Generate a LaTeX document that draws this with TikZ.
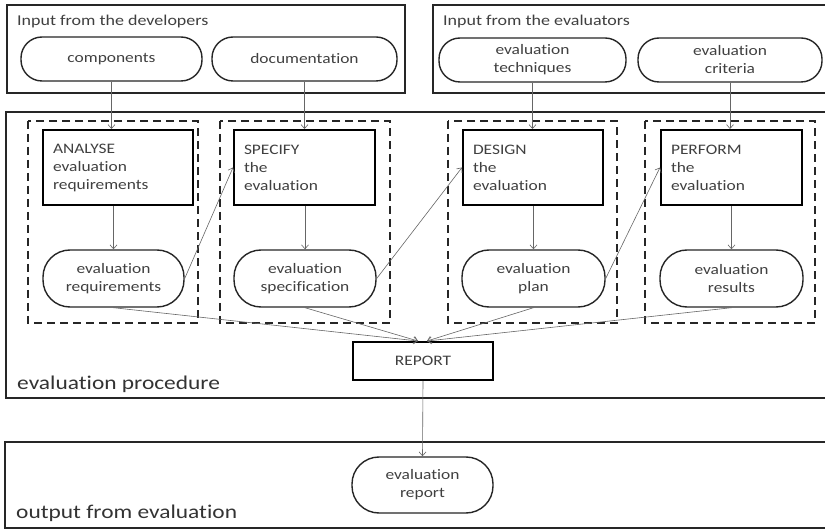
\documentclass[tikz,border=0pt]{standalone}
\usepackage{fontspec}
\setmainfont{Carlito}[FakeStretch=1.2, Ligatures={TeX,NoCommon}]
\usetikzlibrary{arrows.meta}
\begin{document}
\begin{tikzpicture}[x=1pt,y=-1pt,
  frame/.style={draw=black!85, line width=1.8pt},
  pill/.style={draw=black!85, line width=1.4pt, rounded corners=21pt, align=center,
    font=\fontsize{14.5}{18}\selectfont, text=black!75, inner sep=0pt},
  bpill/.style={pill, rounded corners=27pt},
  stage/.style={draw=black, line width=2pt, align=left, inner xsep=10pt, inner ysep=0pt,
    font=\fontsize{14.5}{18}\selectfont, text=black!75, minimum height=75pt},
  dbox/.style={draw=black!85, line width=2pt, dash pattern=on 8pt off 5pt},
  arr/.style={draw=black!60, line width=0.6pt, -{Straight Barb[length=4pt,width=7pt]}},
  head/.style={anchor=base west, inner sep=0pt, text=black!75, font=\fontsize{15}{18}\selectfont},
  big/.style={anchor=base west, inner sep=0pt, text=black!80, font=\fontsize{19.5}{22}\selectfont},
]
\useasboundingbox (0,0) rectangle (825,529);
\fill[white] (0,0) rectangle (825,529);

% frames
\draw[frame] (7,5) rectangle (405,93);
\draw[frame] (433,5) rectangle (830,93);
\draw[frame] (6,112) rectangle (830,398);
\draw[frame] (5,442) rectangle (830,528);

\node[head] (hdev) at (17,26) {Input from the developers};
\node[head] (heval) at (443,26) {Input from the evaluators};
\node[big] (lproc) at (17,390) {evaluation procedure};
\node[big] (lout) at (16,518) {output from evaluation};

% dashed boxes
\draw[dbox] (28,121) rectangle (198,323);
\draw[dbox] (220,121) rectangle (390,323);
\draw[dbox] (448,121) rectangle (617,323);
\draw[dbox] (645,121) rectangle (815,323);

% input pills
\node[pill, minimum width=181pt, minimum height=44pt] (comp) at (111.5,59) {components};
\node[pill, minimum width=185pt, minimum height=44pt] (doc) at (304.5,59) {documentation};
\node[pill, minimum width=187pt, minimum height=44pt] (tech) at (532.5,60) {evaluation\\techniques};
\node[pill, minimum width=184pt, minimum height=44pt] (crit) at (730,60) {evaluation\\criteria};

% stages
\node[stage, text width=130pt] (ana) at (118,167.5) {ANALYSE\\evaluation\\requirements};
\node[stage, text width=121pt] (spec) at (304.5,167.5) {SPECIFY\\the\\evaluation};
\node[stage, text width=120pt] (des) at (533,167.5) {DESIGN\\the\\evaluation};
\node[stage, text width=121pt] (perf) at (731.5,167.5) {PERFORM\\the\\evaluation};

% result pills
\node[bpill, minimum width=141pt, minimum height=57pt] (req) at (113.5,278.5) {evaluation\\requirements};
\node[bpill, minimum width=142pt, minimum height=57pt] (specp) at (305,278.5) {evaluation\\specification};
\node[bpill, minimum width=143pt, minimum height=57pt] (plan) at (533.5,278.5) {evaluation\\plan};
\node[bpill, minimum width=143pt, minimum height=57pt] (res) at (731.5,278.5) {evaluation\\results};

% report
\node[draw=black, line width=2pt, minimum width=140pt, minimum height=38pt, inner sep=0pt,
  font=\fontsize{14.5}{18}\selectfont, text=black!75] (report) at (423,361) {REPORT};
\node[bpill, minimum width=141pt, minimum height=56pt] (evrep) at (422.5,485) {evaluation\\report};

% arrows
\draw[arr] (comp.south) -- (comp.south |- ana.north);
\draw[arr] (doc.south) -- (doc.south |- spec.north);
\draw[arr] (tech.south) -- (tech.south |- des.north);
\draw[arr] (crit.south) -- (crit.south |- perf.north);

\draw[arr] (req.north |- ana.south) -- (req.north);
\draw[arr] (specp.north |- spec.south) -- (specp.north);
\draw[arr] (plan.north |- des.south) -- (plan.north);
\draw[arr] (res.north |- perf.south) -- (res.north);

\draw[arr] (req.east) -- (spec.west);
\draw[arr] (specp.east) -- (des.west);
\draw[arr] (plan.east) -- (perf.west);

\draw[arr] (req.south) -- ([xshift=-5pt]report.north);
\draw[arr] (specp.south) -- ([xshift=-5pt]report.north);
\draw[arr] (plan.south) -- ([xshift=4pt]report.north);
\draw[arr] (res.south) -- ([xshift=4pt]report.north);
\draw[arr] (report.south) -- (evrep.north);
\end{tikzpicture}
\end{document}
